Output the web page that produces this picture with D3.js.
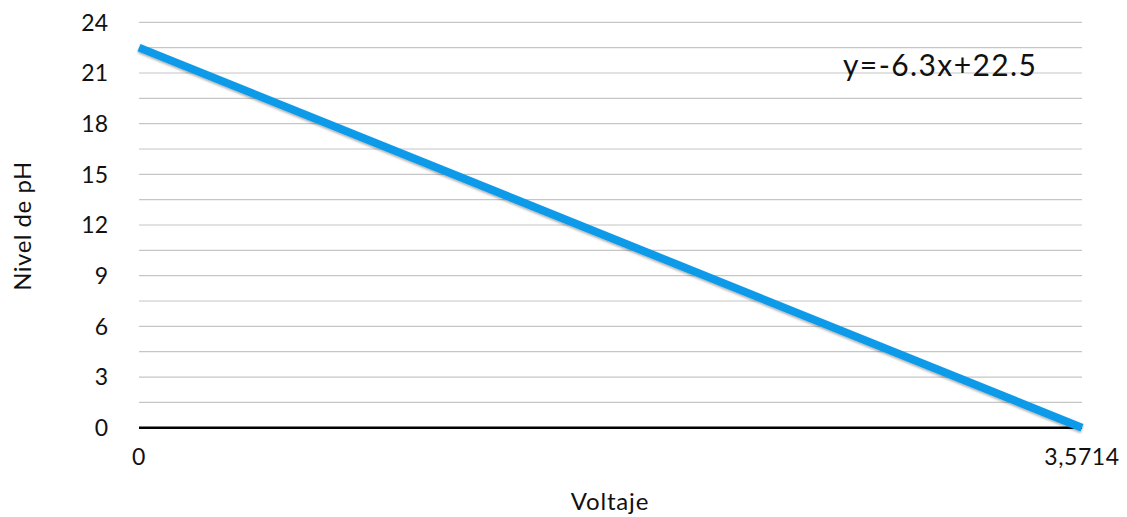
<!DOCTYPE html>
<html><head><meta charset="utf-8">
<script src="https://cdn.jsdelivr.net/npm/d3@7"></script>
<style>body{margin:0;background:#fff}svg{display:block}text{font-family:Lato,"Open Sans",sans-serif;fill:#111}</style>
</head><body>
<svg id="c" width="1127" height="517"></svg>
<script>
const xValues = [0, 3.5714];
const yValues = [22.5, 0];
const xTickLabels = ["0", "3,5714"];
const yTicks = [0, 3, 6, 9, 12, 15, 18, 21, 24];
const gridValues = d3.range(0, 24.01, 1.5);
const equation = "y=-6.3x+22.5";
const xTitle = "Voltaje";
const yTitle = "Nivel de pH";

const svg = d3.select("#c");
const m = {left: 139, right: 1082, top: 22.3, bottom: 427.7};
const x = d3.scaleLinear().domain([0, 3.5714]).range([m.left, m.right]);
const y = d3.scaleLinear().domain([0, 24]).range([m.bottom, m.top]);

svg.append("g").selectAll("line").data(gridValues.filter(v => v > 0)).join("line")
  .attr("x1", m.left).attr("x2", m.right)
  .attr("y1", d => y(d)).attr("y2", d => y(d))
  .attr("stroke", "#c6c6c6").attr("stroke-width", 1.2);

svg.append("line").attr("x1", m.left).attr("x2", m.right)
  .attr("y1", y(0)).attr("y2", y(0)).attr("stroke", "#000").attr("stroke-width", 2.5);

svg.append("g").selectAll("text").data(yTicks).join("text")
  .attr("x", 108).attr("y", d => y(d)).attr("dy", "0.36em")
  .attr("text-anchor", "end").attr("font-size", 23).text(d => d);

svg.append("g").selectAll("text").data(xValues).join("text")
  .attr("x", d => x(d)).attr("y", 465)
  .attr("text-anchor", "middle").attr("font-size", 23).attr("letter-spacing", 0.6)
  .text((d, i) => xTickLabels[i]);

const defs = svg.append("defs");
const f = defs.append("filter").attr("id", "sh").attr("x", "-10%").attr("y", "-10%").attr("width", "120%").attr("height", "130%");
f.append("feDropShadow").attr("dx", 0).attr("dy", 1.5).attr("stdDeviation", 1.2).attr("flood-color", "#000").attr("flood-opacity", 0.35);

const line = d3.line().x((d, i) => x(xValues[i])).y(d => y(d));
svg.append("path").datum(yValues).attr("d", line)
  .attr("fill", "none").attr("stroke", "#0f9be9").attr("stroke-width", 8)
  .attr("filter", "url(#sh)");

svg.append("text").attr("x", 843).attr("y", 76).attr("font-size", 30)
  .attr("letter-spacing", 1.4).text(equation);

svg.append("text").attr("x", 610).attr("y", 510).attr("text-anchor", "middle")
  .attr("font-size", 24).attr("letter-spacing", 0.8).text(xTitle);

svg.append("text").attr("transform", "translate(31,226) rotate(-90)")
  .attr("text-anchor", "middle").attr("font-size", 24).attr("letter-spacing", 0.5).text(yTitle);
</script>
</body></html>
